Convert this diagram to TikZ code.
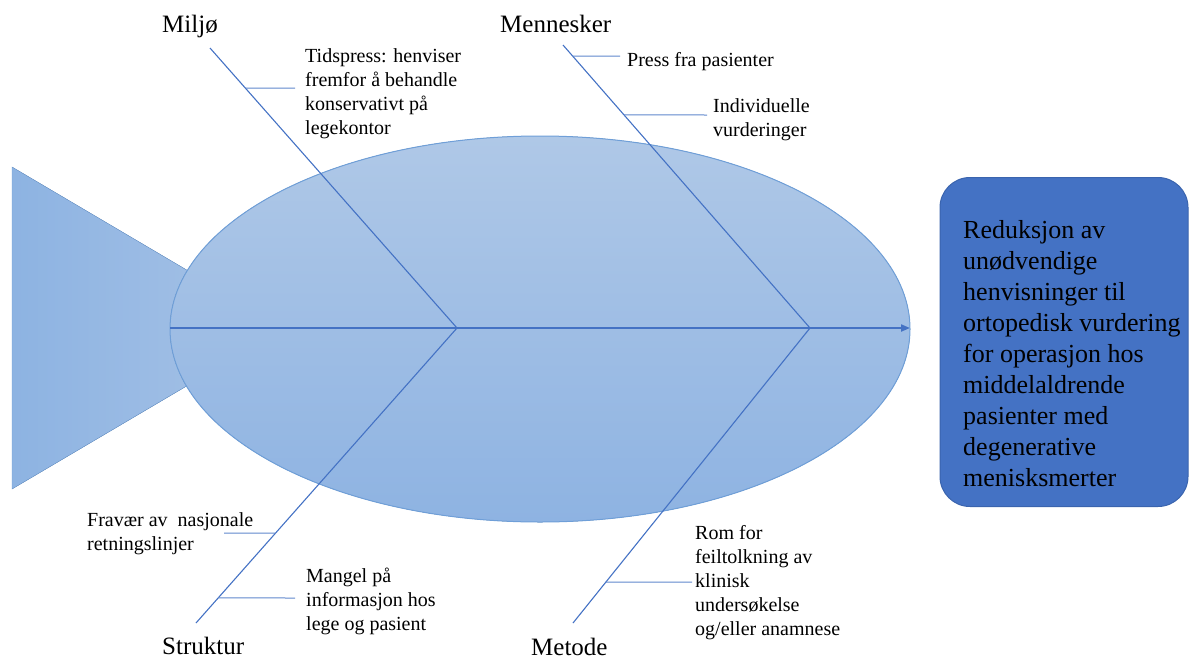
\documentclass[tikz,border=0pt]{standalone}
\usepackage{fontspec}
\setmainfont{Liberation Serif}
\usepackage{tikz}
\usetikzlibrary{arrows.meta, calc}
\definecolor{boneblue}{HTML}{4472C4}
\definecolor{bodytop}{HTML}{AFC8E7}
\definecolor{bodybot}{HTML}{8EB3E2}
\definecolor{bodyedge}{HTML}{6F9FD8}
\definecolor{tailleft}{HTML}{8DB3E2}
\definecolor{tailright}{HTML}{A8C3E6}
\definecolor{goalfill}{HTML}{4472C4}
\definecolor{goaledge}{HTML}{3A64AE}

\begin{document}
\begin{tikzpicture}[x=1pt, y=-1pt,
    bone/.style={draw=boneblue, line width=1.1pt},
    branch/.style={draw=boneblue!85, line width=1pt},
    spine/.style={draw=boneblue, line width=2pt, -{Triangle[length=9pt,width=7pt]}},
    cat/.style={font=\fontsize{25}{30}\selectfont, inner sep=0pt, anchor=north west},
    lbl/.style={font=\fontsize{20}{24}\selectfont, inner sep=0pt, anchor=north west, align=left},
    goal/.style={rectangle, rounded corners=30pt, fill=goalfill, draw=goaledge, line width=1pt, minimum width=248pt, minimum height=329pt},
    goaltxt/.style={font=\fontsize{26}{31}\selectfont, inner sep=0pt, anchor=north west, align=left},
]
    \useasboundingbox (0,0) rectangle (1191,659);
    % Tail and body
    \filldraw[left color=tailleft, right color=tailright, draw=bodyedge] (12,167) -- (285,328) -- (12,489) -- cycle;
    \filldraw[top color=bodytop, bottom color=bodybot, draw=bodyedge, line width=1pt] (540,329) ellipse [x radius=370pt, y radius=193pt];
    % Spine
    \coordinate (tailend) at (170,328);
    \coordinate (mouth) at (910,328);
    \coordinate (j1) at (457,328);
    \coordinate (j2) at (810,328);
    \draw[spine] (tailend) -- (mouth);
    % Bones
    \coordinate (miljoend) at (210,48);
    \coordinate (mennend) at (563,45);
    \coordinate (struktend) at (196,623);
    \coordinate (metodeend) at (573,623);
    \draw[bone] (j1) -- (miljoend);
    \draw[bone] (j2) -- (mennend);
    \draw[bone] (j1) -- (struktend);
    \draw[bone] (j2) -- (metodeend);
    % Category labels
    \node[cat] (miljo) at (162,15) {Miljø};
    \node[cat] (menn) at (500,15) {Mennesker};
    \node[cat] (strukt) at (162,637) {Struktur};
    \node[cat] (metode) at (531,638) {Metode};
    % Causes
    \node[lbl] (tid) at (305,48) {Tidspress: henviser\\fremfor å behandle\\konservativt på\\legekontor};
    \node[lbl] (press) at (627,52) {Press fra pasienter};
    \node[lbl] (indiv) at (713,98) {Individuelle\\vurderinger};
    \node[lbl] (frav) at (87,512) {Fravær av\ \ nasjonale\\retningslinjer};
    \node[lbl] (mangel) at (306,568) {Mangel på\\informasjon hos\\lege og pasient};
    \node[lbl] (rom) at (695,525) {Rom for\\feiltolkning av\\klinisk\\undersøkelse\\og/eller anamnese};
    % Branches
    \coordinate (b1) at ($(j1)!0.857!(miljoend)$);
    \coordinate (b1e) at (295,88);
    \coordinate (b2) at ($(j2)!0.961!(mennend)$);
    \coordinate (b2e) at (620,56);
    \coordinate (b3) at ($(j2)!0.753!(mennend)$);
    \coordinate (b3e) at (707,115);
    \coordinate (b4) at ($(j1)!0.695!(struktend)$);
    \coordinate (b4e) at (224,533);
    \coordinate (b5) at ($(j1)!0.915!(struktend)$);
    \coordinate (b5e) at (295,598);
    \coordinate (b6) at ($(j2)!0.861!(metodeend)$);
    \coordinate (b6e) at (692,582);
    \foreach \a/\b in {b1/b1e, b2/b2e, b3/b3e, b4/b4e, b5/b5e, b6/b6e} {
        \draw[branch] (\a) -- (\b);
    }
    % Effect
    \node[goal] (goal) at (1064,342) {};
    \node[goaltxt] (goaltext) at (963,220) {Reduksjon av\\unødvendige\\henvisninger til\\ortopedisk vurdering\\for operasjon hos\\middelaldrende\\pasienter med\\degenerative\\menisksmerter};
\end{tikzpicture}
\end{document}
